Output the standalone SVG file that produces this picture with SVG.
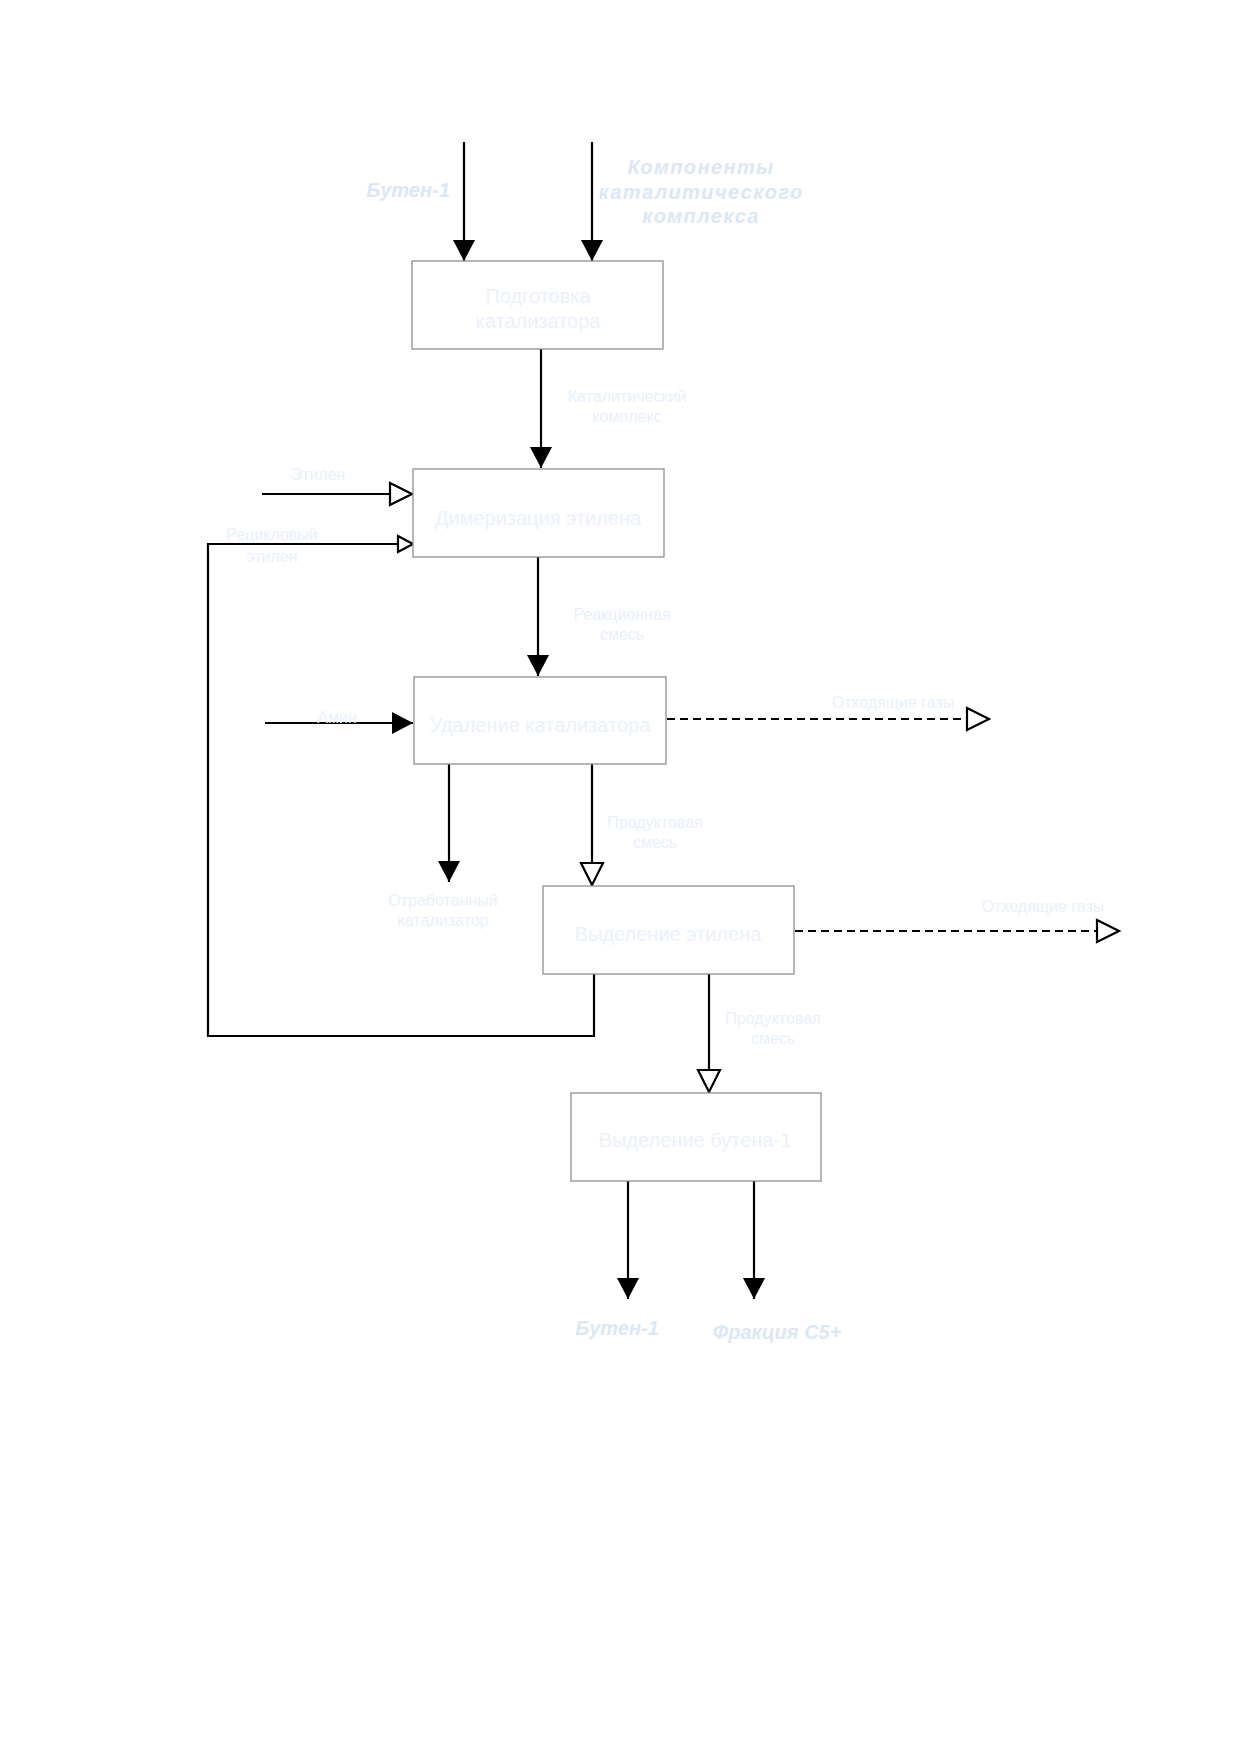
<svg xmlns="http://www.w3.org/2000/svg" width="1240" height="1754" viewBox="0 0 1240 1754">
<style>
.box{fill:#ffffff;stroke:#8f8f8f;stroke-width:1.3}
.bt{font-family:"Liberation Sans",Arial,sans-serif;font-size:20px;fill:#ebf1fa;text-anchor:middle}
.lb{font-family:"Liberation Sans",Arial,sans-serif;font-size:16px;fill:#e9f0fa;text-anchor:middle}
.bi{font-family:"Liberation Sans",Arial,sans-serif;font-size:20px;font-weight:bold;font-style:italic;fill:#dce7f6;text-anchor:middle}
.ln{fill:none;stroke:#000;stroke-width:2.2}
.ds{stroke-dasharray:8 5}
</style>
<defs>
<marker id="af" markerUnits="userSpaceOnUse" markerWidth="21" markerHeight="22" viewBox="0 0 21 22" refX="21" refY="11" orient="auto"><path d="M0,0 L21,11 L0,22 z" fill="#000"/></marker>
<marker id="ao" markerUnits="userSpaceOnUse" markerWidth="26" markerHeight="26" viewBox="-2 -2 26 26" refX="22" refY="11" orient="auto"><path d="M0,0 L22,11 L0,22 z" fill="#fff" stroke="#000" stroke-width="2.2"/></marker>
<marker id="as" markerUnits="userSpaceOnUse" markerWidth="19" markerHeight="20" viewBox="-2 -2 19 20" refX="15" refY="8" orient="auto"><path d="M0,0 L15,8 L0,16 z" fill="#fff" stroke="#000" stroke-width="2.2"/></marker>
</defs>
<g id="connectors">
<path class="ln" d="M464,142 V261" marker-end="url(#af)"/>
<path class="ln" d="M592,142 V261" marker-end="url(#af)"/>
<path class="ln" d="M541,349 V468" marker-end="url(#af)"/>
<path class="ln" d="M262,494 H412" marker-end="url(#ao)"/>
<path class="ln" d="M594,974 V1036 H208 V544 H413" marker-end="url(#as)"/>
<path class="ln" d="M538,557 V676" marker-end="url(#af)"/>
<path class="ln" d="M265,723 H413" marker-end="url(#af)"/>
<path class="ln ds" d="M667,719 H989" marker-end="url(#ao)"/>
<path class="ln" d="M449,764 V882" marker-end="url(#af)"/>
<path class="ln" d="M592,764 V885" marker-end="url(#ao)"/>
<path class="ln ds" d="M795,931 H1119" marker-end="url(#ao)"/>
<path class="ln" d="M709,974 V1092" marker-end="url(#ao)"/>
<path class="ln" d="M628,1181 V1299" marker-end="url(#af)"/>
<path class="ln" d="M754,1181 V1299" marker-end="url(#af)"/>
</g>
<g id="labels">
<text class="bi" x="408" y="197">Бутен-1</text>
<text class="bi" x="701" y="174" font-size="18" letter-spacing="1.4">Компоненты</text>
<text class="bi" x="701" y="199" font-size="18" letter-spacing="1.4">каталитического</text>
<text class="bi" x="701" y="223" font-size="18" letter-spacing="1.4">комплекса</text>
<text class="lb" x="627" y="402">Каталитический</text>
<text class="lb" x="627" y="422">комплекс</text>
<text class="lb" x="318" y="480" font-size="18">Этилен</text>
<text class="lb" x="272" y="540">Рецикловый</text>
<text class="lb" x="272" y="562">этилен</text>
<text class="lb" x="622" y="620">Реакционная</text>
<text class="lb" x="622" y="640">смесь</text>
<text class="lb" x="337" y="723">Амин</text>
<text class="lb" x="893" y="708">Отходящие газы</text>
<text class="lb" x="655" y="828">Продуктовая</text>
<text class="lb" x="655" y="848">смесь</text>
<text class="lb" x="443" y="906">Отработанный</text>
<text class="lb" x="443" y="926">катализатор</text>
<text class="lb" x="1043" y="912">Отходящие газы</text>
<text class="lb" x="773" y="1024">Продуктовая</text>
<text class="lb" x="773" y="1044">смесь</text>
<text class="bi" x="617" y="1335" font-size="19">Бутен-1</text>
<text class="bi" x="777" y="1339" font-size="19">Фракция С5+</text>
</g>
<g id="node-podgotovka">
<rect class="box" x="412" y="261" width="251" height="88"/>
<text class="bt" x="538" y="303">Подготовка</text>
<text class="bt" x="538" y="328">катализатора</text>
</g>
<g id="node-dimerizaciya">
<rect class="box" x="413" y="469" width="251" height="88"/>
<text class="bt" x="538" y="525">Димеризация этилена</text>
</g>
<g id="node-udalenie">
<rect class="box" x="414" y="677" width="252" height="87"/>
<text class="bt" x="540" y="732">Удаление катализатора</text>
</g>
<g id="node-vydelenie-etilena">
<rect class="box" x="543" y="886" width="251" height="88"/>
<text class="bt" x="668" y="941">Выделение этилена</text>
</g>
<g id="node-vydelenie-butena">
<rect class="box" x="571" y="1093" width="250" height="88"/>
<text class="bt" x="695" y="1147">Выделение бутена-1</text>
</g>
</svg>
